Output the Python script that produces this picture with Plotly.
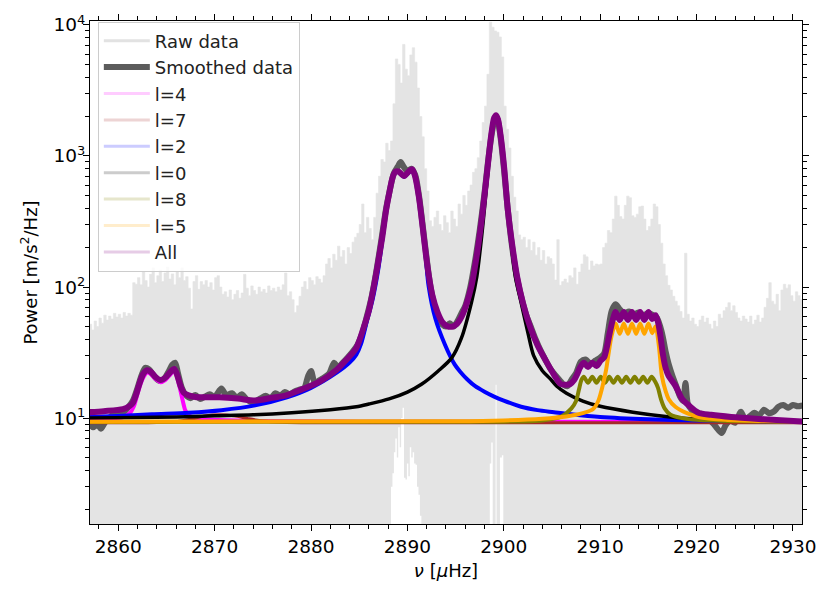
import plotly.graph_objects as go

# ---------------- data ----------------
# raw power spectrum: upper envelope on a 0.25 uHz grid starting at 2857.0
raw_start = 2857.0
raw_step = 0.25
raw_upper = [
    52, 47, 55, 50,  58, 53, 61, 56,  60, 57, 63, 59,  62, 58, 64, 60,
    63, 61, 108, 105,  118, 104, 130, 112,  100, 125, 140, 108,  122, 135, 110, 128,
    142, 115, 126, 104,  130, 118, 140, 112,  120, 98, 68, 110,  122, 96, 110, 104,
    112, 100, 108, 95,  118, 122, 100, 88,  92, 84, 95, 80,  88, 94, 82, 90,
    125, 98, 86, 102,  94, 88, 100, 92,  96, 90, 102, 94,  98, 92, 100, 95,
    104, 128, 86, 92,  80, 64, 72, 85,  100, 110, 96, 118,  112, 104, 120, 115,
    108, 122, 150, 165,  140, 178, 160, 205,  170, 190, 150, 200,  180, 220, 240, 257,
    300, 430, 260, 340,  280, 230, 340, 520,  700, 940, 900, 1250,  1100, 1300, 2500, 5500,
    5000, 3600, 7100, 4600,  4100, 5900, 6700, 5200,  3300, 2000, 1400, 800,  540, 320, 290, 340,
    380, 300, 270, 350,  310, 260, 380, 330,  290, 430, 360, 500,  420, 540, 600, 750,
    800, 970, 1300, 1800,  2400, 4200, 10500, 9600,  9000, 8800, 8100, 5700,  2400, 1600, 1150, 700,
    485, 380, 250, 230,  240, 200, 230, 190,  220, 175, 200, 160,  190, 150, 170, 165,
    150, 113, 230, 103,  110, 115, 108, 122,  118, 140, 105, 130,  150, 176, 170, 135,
    158, 145, 150, 148,  150, 200, 216, 270,  260, 330, 494, 420,  345, 330, 420, 494,
    480, 350, 340, 360,  410, 415, 330, 270,  290, 330, 430, 410,  300, 216, 150, 122,
    103, 95, 85, 78,  72, 65, 58, 181,  62, 55, 58, 52,  50, 56, 60, 54,
    58, 52, 48, 55,  50, 62, 58, 66,  70, 76, 66, 72,  64, 58, 55, 60,
    57, 54, 60, 52,  56, 61, 54, 58,  70, 82, 108, 78,  74, 88, 66, 95,
    105, 98, 104, 86,  78, 92, 86, 80,  82,
]
raw_freq = [raw_start + raw_step * i for i in range(len(raw_upper))]

# raw power spectrum: lower envelope (mostly below the axis)
raw_lower_freq = [2857.0, 2888.3, 2888.45, 2888.6, 2888.75, 2888.9, 2889.05, 2889.2, 2889.35,
                  2889.5, 2889.65, 2889.8, 2889.95, 2890.1, 2890.25, 2890.4, 2890.55, 2890.7,
                  2890.85, 2891.0, 2891.15, 2891.3, 2891.45, 2898.55, 2898.7, 2898.85, 2899.15,
                  2899.25, 2899.6, 2899.8, 2899.95, 2900.1, 2931.0]
raw_lower = [1.0, 3.0, 3.8, 5.5, 7.0, 5.0, 8.5, 6.0, 10.0,
             12.0, 3.5, 3.4, 4.5, 3.6, 6.0, 5.0, 5.5, 4.5,
             4.4, 3.0, 2.6, 1.8, 1.0, 4.5, 6.5, 1.0, 18.0,
             1.0, 5.0, 5.2, 1.0, 1.0, 1.0]

smooth_freq = [2857.0, 2857.4, 2857.8, 2858.2, 2858.6, 2859.0, 2859.5, 2860.0, 2860.5, 2861.0,
               2861.5, 2862.0, 2862.4, 2862.8, 2863.2, 2863.7, 2864.2, 2864.7, 2865.2, 2865.6,
               2865.9, 2866.2, 2866.6, 2867.0, 2867.5, 2868.0, 2868.5, 2869.0, 2869.5, 2870.0,
               2870.7, 2871.2, 2871.8, 2872.3, 2872.8, 2873.3, 2873.8, 2874.3, 2874.8, 2875.3,
               2875.8, 2876.3, 2876.8, 2877.3, 2877.8, 2878.3, 2878.8, 2879.3, 2879.7, 2880.0,
               2880.4, 2880.9, 2881.4, 2881.9, 2882.4, 2882.8, 2883.3, 2883.8, 2884.3, 2884.8,
               2885.3, 2885.8, 2886.3, 2886.8, 2887.3, 2887.8, 2888.2, 2888.6, 2889.0, 2889.3,
               2889.6, 2890.0, 2890.4, 2890.8, 2891.2, 2891.6, 2892.0, 2892.4, 2892.8, 2893.2,
               2893.6, 2894.0, 2894.4, 2894.8, 2895.2, 2895.6, 2896.0, 2896.5, 2897.0, 2897.5,
               2898.0, 2898.4, 2898.8, 2899.1, 2899.3, 2899.6, 2900.0, 2900.4, 2900.8, 2901.3,
               2901.8, 2902.3, 2902.8, 2903.3, 2903.8, 2904.3, 2904.8, 2905.3, 2905.8, 2906.2,
               2906.6, 2907.0, 2907.5, 2908.0, 2908.5, 2909.0, 2909.5, 2910.0, 2910.4, 2910.8,
               2911.2, 2911.6, 2912.0, 2912.5, 2913.0, 2913.5, 2914.0, 2914.5, 2915.0, 2915.5,
               2915.9, 2916.4, 2916.8, 2917.1, 2917.5, 2917.9, 2918.3, 2918.6, 2918.85, 2919.1,
               2919.5, 2920.0, 2920.5, 2921.0, 2921.5, 2922.0, 2922.6, 2923.0, 2923.5, 2924.0,
               2924.6, 2925.0, 2925.5, 2926.0, 2926.5, 2927.0, 2927.5, 2928.0, 2928.5, 2929.0,
               2929.5, 2930.0, 2930.5, 2931.0]
smooth_vals = [9.2, 8.5, 9.0, 8.3, 9.2, 9.8, 10.8, 11.2, 11.0, 12.0,
               13.5, 17.0, 21.0, 24.2, 23.5, 21.0, 19.3, 19.8, 22.5, 25.5,
               26.5, 22.0, 17.0, 15.0, 14.2, 15.0, 14.0, 14.6, 15.2, 14.5,
               16.8, 15.0, 15.5, 14.3, 15.2, 14.0, 13.2, 13.5, 14.2, 14.8,
               14.2, 15.5, 14.8, 15.8, 15.2, 16.0, 16.5, 17.0, 21.0, 22.9,
               18.5, 19.5, 20.5, 22.0, 26.5, 24.5, 26.5, 29.0, 32.0, 36.0,
               44.0, 60.0, 85.0, 135, 230, 400, 560, 740, 830, 900,
               830, 770, 800, 720, 500, 290, 165, 100, 72, 58,
               52, 50, 53, 50, 55, 63, 72, 98, 155, 270,
               520, 950, 1550, 1950, 1950, 1500, 820, 400, 220, 125,
               85, 62, 50, 40, 33, 28, 24, 21.5, 19.5, 18.0,
               17.5, 19.5, 22.0, 27.0, 28.0, 26.0, 27.5, 29.0, 31.0, 45.0,
               66.0, 74.0, 68.0, 63.0, 65.0, 62.0, 64.0, 61.0, 63.0, 61.0,
               58.0, 45.0, 32.0, 26.0, 21.0, 17.5, 14.5, 13.5, 18.5, 12.8,
               11.5, 10.5, 10.8, 10.2, 9.5, 8.6, 7.7, 8.8, 9.6, 9.2,
               11.2, 9.9, 10.3, 11.0, 10.5, 11.6, 10.9, 11.2, 12.2, 12.6,
               12.0, 12.6, 12.3, 12.5]

l4_freq = [2857.0, 2859.0, 2860.5, 2861.2, 2861.6, 2861.9, 2862.2, 2862.6, 2863.0, 2863.4,
           2863.9, 2864.4, 2864.9, 2865.4, 2865.8, 2866.1, 2866.45, 2866.7, 2866.95, 2867.3,
           2868.0, 2870.0, 2875.0, 2885.0, 2931.0]
l4_vals = [9.8, 9.95, 10.2, 10.9, 12.2, 14.4, 17.2, 20.4, 22.3, 21.6,
           19.8, 18.8, 19.6, 21.5, 22.9, 20.5, 16.2, 13.5, 11.5, 10.5,
           10.0, 9.7, 9.5, 9.4, 9.35]

l7_freq = [2857.0, 2864.0, 2866.0, 2867.5, 2869.0, 2870.5, 2872.0, 2873.5, 2875.0, 2877.0, 2880.0, 2931.0]
l7_vals = [9.2, 9.25, 9.4, 9.8, 10.4, 10.6, 10.4, 9.9, 9.5, 9.3, 9.22, 9.2]

l2_freq = [2857.0, 2860.5, 2863.5, 2867.3, 2870.7, 2874.2, 2877.5, 2880.0, 2882.7, 2884.0,
           2884.7, 2885.2, 2885.8, 2886.4, 2887.0, 2887.4, 2887.8, 2888.1, 2888.5, 2888.8,
           2889.1, 2889.65, 2890.2, 2890.5, 2890.8, 2891.2, 2891.6, 2891.9, 2892.2, 2892.9,
           2893.9, 2894.9, 2895.5, 2896.2, 2897.0, 2898.0, 2899.0, 2900.0, 2901.8, 2903.5,
           2905.2, 2907.0, 2910.0, 2915.0, 2920.0, 2925.0, 2931.0]
l2_vals = [10.2, 10.4, 10.7, 11.0, 11.5, 12.5, 14.4, 17.0, 22.3, 26.5,
           30.5, 37, 55, 81, 140, 230, 380, 500, 690, 755,
           750, 695, 755, 780, 695, 475, 275, 172, 102, 57.5,
           36.3, 25.7, 22.5, 19.8, 17.6, 15.9, 14.6, 13.6, 12.2, 11.5,
           11.1, 10.7, 10.2, 9.8, 9.6, 9.5, 9.4]

l0_freq = [2857.0, 2862.0, 2866.0, 2870.0, 2874.0, 2878.0, 2882.0, 2884.7, 2886.0, 2888.1,
           2890.0, 2891.5, 2893.2, 2894.6, 2895.6, 2896.65, 2897.2, 2897.7, 2898.0, 2898.35,
           2898.7, 2899.0, 2899.2, 2899.4, 2899.7, 2900.05, 2900.4, 2900.7, 2901.2, 2901.8,
           2902.5, 2903.1, 2904.0, 2904.8, 2905.5, 2906.5, 2908.2, 2910.0, 2913.4, 2916.8,
           2920.2, 2925.0, 2931.0]
l0_vals = [10.0, 10.1, 10.2, 10.4, 10.6, 11.0, 11.6, 12.2, 12.8, 14.0,
           15.8, 18.2, 22.9, 28.8, 40.7, 76.5, 120, 242, 400, 763,
           1350, 1850, 1950, 1850, 1350, 763, 400, 242, 120, 76,
           45, 30, 23, 20, 17.5, 15.5, 13.5, 12.3, 11.1, 10.3,
           9.8, 9.55, 9.45]

l8_freq = [2857.0, 2900.0, 2904.0, 2906.0, 2907.0, 2907.5, 2907.8, 2908.05, 2908.3, 2908.74,
           2909.18, 2909.62, 2910.06, 2910.5, 2910.94, 2911.38, 2911.82, 2912.26, 2912.7, 2913.14,
           2913.58, 2914.02, 2914.46, 2914.9, 2915.34, 2915.7, 2916.0, 2916.3, 2916.7, 2917.3,
           2918.5, 2920.0, 2925.0, 2931.0]
l8_vals = [9.35, 9.4, 9.6, 10.3, 11.8, 13.5, 16.5, 19.5, 20.7, 18.6,
           20.7, 18.6, 20.7, 18.6, 20.7, 18.6, 20.7, 18.6, 20.7, 18.6,
           20.7, 18.6, 20.7, 18.6, 20.7, 19.0, 17.0, 14.0, 11.8, 10.6,
           10.0, 9.7, 9.45, 9.38]

l5_freq = [2857.0, 2895.0, 2900.0, 2904.0, 2906.5, 2908.2, 2909.3, 2909.8, 2910.2, 2910.6,
           2910.9, 2911.2, 2911.6, 2912.03, 2912.45, 2912.88, 2913.3, 2913.73, 2914.15, 2914.58,
           2915.0, 2915.4, 2915.75, 2916.1, 2916.4, 2916.8, 2917.1, 2917.8, 2919.0, 2920.2,
           2923.0, 2927.0, 2931.0]
l5_vals = [9.38, 9.45, 9.6, 9.9, 10.3, 10.9, 11.8, 13.5, 17.0, 23.0,
           32.0, 43.0, 52.7, 44.0, 52.7, 44.0, 52.7, 44.0, 52.7, 44.0,
           52.7, 44.5, 50.0, 35.0, 21.0, 16.0, 14.0, 12.2, 10.9, 10.2,
           9.7, 9.5, 9.4]

all_freq = [2857.0, 2858.5, 2860.5, 2861.2, 2861.5, 2861.9, 2862.2, 2862.6, 2863.0, 2863.4,
            2863.9, 2864.4, 2864.9, 2865.4, 2865.8, 2866.1, 2866.45, 2866.8, 2867.3, 2868.0,
            2869.0, 2870.5, 2872.4, 2874.2, 2876.0, 2877.5, 2879.0, 2880.9, 2882.7, 2883.7,
            2884.7, 2885.5, 2886.0, 2886.4, 2886.9, 2887.4, 2887.8, 2888.1, 2888.5, 2888.8,
            2889.1, 2889.65, 2890.2, 2890.5, 2890.8, 2891.2, 2891.6, 2891.9, 2892.2, 2892.6,
            2893.1, 2893.6, 2894.1, 2894.6, 2895.1, 2895.6, 2896.1, 2896.65, 2897.2, 2897.7,
            2898.0, 2898.35, 2898.7, 2899.0, 2899.2, 2899.4, 2899.7, 2900.05, 2900.4, 2900.8,
            2901.4, 2902.0, 2902.8, 2903.5, 2904.2, 2905.2, 2905.9, 2906.5, 2906.9, 2907.3,
            2907.6, 2907.9, 2908.3, 2908.74, 2909.18, 2909.62, 2910.06, 2910.4, 2910.7, 2911.0,
            2911.3, 2911.6, 2912.03, 2912.45, 2912.88, 2913.3, 2913.73, 2914.15, 2914.58, 2915.0,
            2915.4, 2915.75, 2916.05, 2916.3, 2916.5, 2916.8, 2917.1, 2917.8, 2918.5, 2919.2,
            2920.2, 2921.5, 2923.6, 2927.0, 2931.0]
all_vals = [11.1, 11.3, 11.7, 12.4, 13.0, 15.5, 18.3, 21.8, 23.2, 22.5,
            20.5, 19.5, 20.4, 22.5, 23.7, 21.5, 17.7, 15.6, 14.9, 14.5,
            14.4, 14.4, 14.1, 13.6, 14.3, 15.0, 16.5, 19.0, 23.5, 28.0,
            34.3, 50, 66, 91, 145, 242, 390, 513, 700, 763,
            760, 703, 770, 792, 700, 483, 280, 182, 125, 86,
            65, 54.4, 50.5, 49.8, 52, 59, 73, 102, 175, 322,
            500, 860, 1450, 1950, 2050, 1900, 1380, 800, 400, 230,
            118, 75, 48, 36, 28.8, 21.5, 18.2, 18.0, 18.2, 19.5,
            21.5, 24.2, 26.5, 24.5, 26.5, 25.0, 27.5, 29, 35, 45,
            56, 64.5, 56, 64.5, 56, 64.5, 56, 64.5, 56, 64.5,
            57, 61, 52, 40, 31, 24, 21, 17.7, 14, 12.5,
            11.0, 10.6, 10.2, 9.8, 9.4]

x_ticks = [2860, 2870, 2880, 2890, 2900, 2910, 2920, 2930]
y_ticks = [10, 100, 1000, 10000]
y_ticktext = ["10<sup>1</sup>", "10<sup>2</sup>", "10<sup>3</sup>", "10<sup>4</sup>"]

# ---------------- figure ----------------
FONT = "DejaVu Sans"
fig = go.Figure()

# raw data band
fig.add_trace(go.Scatter(x=raw_lower_freq, y=raw_lower, mode="lines",
                         line=dict(width=0, shape="hv", color="#e4e4e4"),
                         showlegend=False, hoverinfo="skip"))
fig.add_trace(go.Scatter(x=raw_freq, y=raw_upper, mode="lines",
                         line=dict(width=0.6, shape="hv", color="#e4e4e4"),
                         fill="tonexty", fillcolor="#e4e4e4",
                         showlegend=False, hoverinfo="skip"))

# smoothed data
fig.add_trace(go.Scatter(x=smooth_freq, y=smooth_vals, mode="lines",
                         line=dict(width=6, color="#5c5c5c", shape="spline", smoothing=0.8),
                         showlegend=False))

components = [
    ("l=4", l4_freq, l4_vals, "#ff00ff", 4, "#ffccff"),
    ("l=7", l7_freq, l7_vals, "#a52a2a", 3, "#edd4d4"),
    ("l=2", l2_freq, l2_vals, "#0000ff", 4, "#ccccff"),
    ("l=0", l0_freq, l0_vals, "#000000", 3.5, "#cccccc"),
    ("l=8", l8_freq, l8_vals, "#808000", 4, "#e6e6cc"),
    ("l=5", l5_freq, l5_vals, "#ffa500", 4, "#ffedcc"),
    ("All", all_freq, all_vals, "#800080", 6, "#e6cce6"),
]
for name, fx, fy, col, w, _ in components:
    fig.add_trace(go.Scatter(x=fx, y=fy, mode="lines",
                             line=dict(width=w, color=col, shape="spline", smoothing=0.8),
                             showlegend=False))

# legend entries (faint, as in reference)
fig.add_trace(go.Scatter(x=[None], y=[None], mode="lines", name="Raw data",
                         line=dict(width=3, color="#e2e2e2")))
fig.add_trace(go.Scatter(x=[None], y=[None], mode="lines", name="Smoothed data",
                         line=dict(width=6, color="#5c5c5c")))
for name, fx, fy, col, w, lcol in components:
    fig.add_trace(go.Scatter(x=[None], y=[None], mode="lines", name=name,
                             line=dict(width=3, color=lcol)))

y_minor = [v * m for m in (1, 10, 100, 1000) for v in range(2, 10)]

fig.update_layout(
    width=828, height=590,
    margin=dict(l=90, r=16, t=14, b=64),
    paper_bgcolor="white", plot_bgcolor="white",
    font=dict(family=FONT, size=18, color="black"),
    showlegend=True,
    legend=dict(x=0.011, y=0.999, xanchor="left", yanchor="top", traceorder="normal",
                itemwidth=46,
                bgcolor="rgba(255,255,255,0.8)", bordercolor="#cccccc", borderwidth=1,
                font=dict(family=FONT, size=18, color="#222222"), tracegroupgap=0),
    xaxis=dict(range=[2857.07, 2930.94], tickvals=x_ticks, ticks="outside", ticklen=6,
               tickwidth=1, tickcolor="black", showline=True, linecolor="black", linewidth=1.2,
               mirror="allticks", showgrid=False, zeroline=False,
               minor=dict(dtick=2, ticks="outside", ticklen=3.5, tickcolor="black", showgrid=False),
               title=dict(text="<i>ν</i> [<i>μ</i>Hz]", standoff=8, font=dict(size=18)),
               tickfont=dict(size=18.5)),
    yaxis=dict(type="log", range=[0.192, 4.03], tickvals=y_ticks, ticktext=y_ticktext,
               ticks="outside", ticklen=6, tickwidth=1, tickcolor="black",
               showline=True, linecolor="black", linewidth=1.2, mirror="allticks",
               showgrid=False, zeroline=False, ticklabelstandoff=-6,
               minor=dict(tickvals=y_minor, ticks="outside", ticklen=3.5, tickcolor="black",
                          showgrid=False),
               title=dict(text="Power [m/s<sup>2</sup>/Hz]", standoff=11, font=dict(size=18)),
               tickfont=dict(size=18.5)),
)

fig.write_html("out.html")
